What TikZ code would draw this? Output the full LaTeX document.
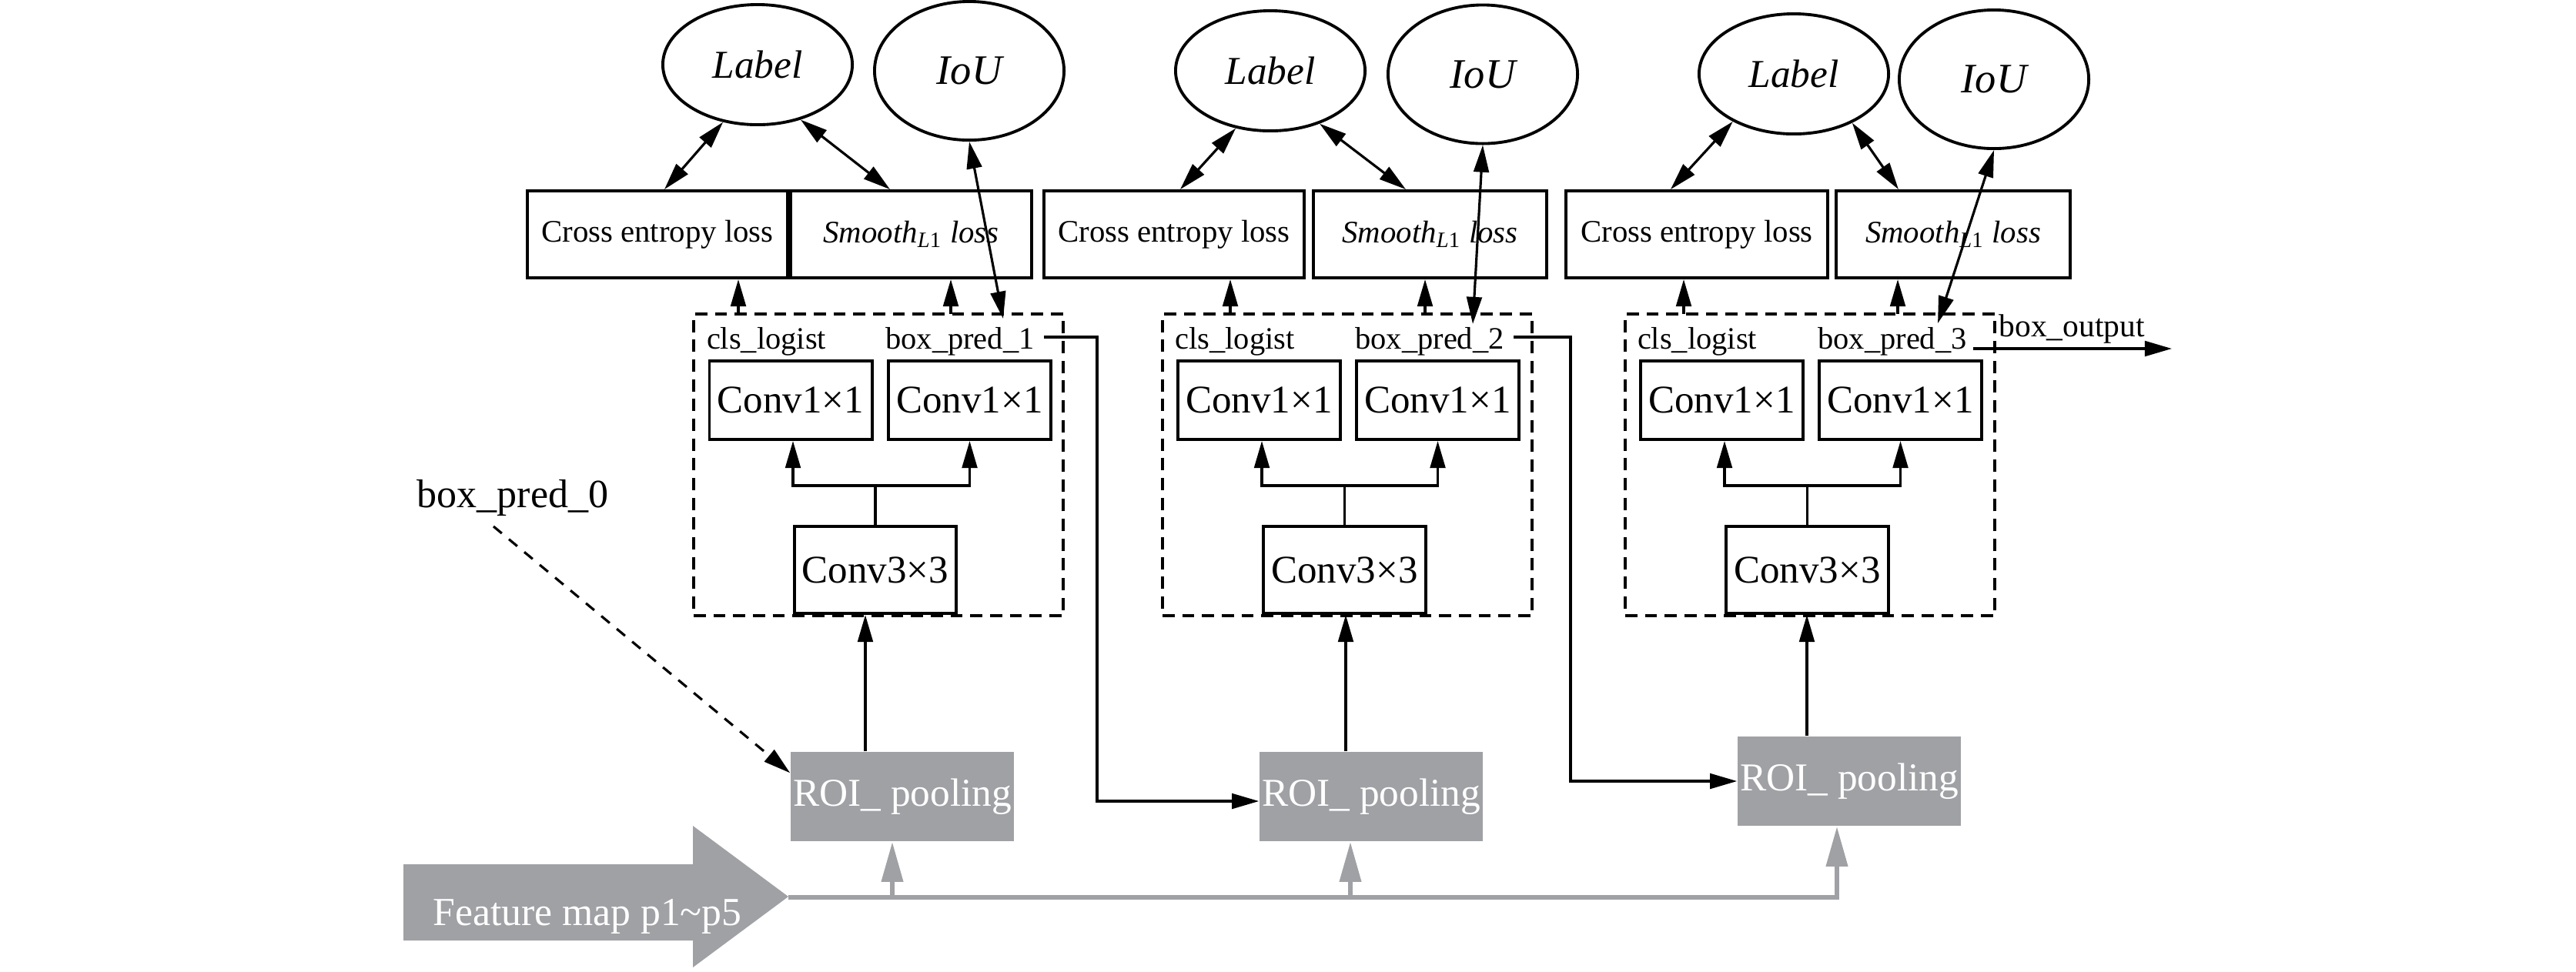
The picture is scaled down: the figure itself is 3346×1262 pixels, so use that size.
\documentclass[tikz,border=0pt]{standalone}
\usepackage{fontspec}
\setmainfont{Liberation Serif}
\usetikzlibrary{arrows.meta,shapes.geometric}
\definecolor{roigray}{RGB}{160,161,165}
\newcommand\fsz[1]{\fontsize{#1}{#1}\selectfont}
\newcommand\smoothloss{\textit{Smooth}\textsubscript{\textit{L}1} \textit{loss}}
\begin{document}
\begin{tikzpicture}[x=0.01cm,y=-0.01cm,
  >={Triangle[length=10pt,width=5.6pt]},
  lab/.style={ellipse,draw,line width=1.1pt,inner sep=0pt,minimum width=2.46cm,minimum height=1.56cm,font=\fsz{14.6}\itshape},
  iou/.style={lab,minimum height=1.80cm,font=\fsz{15.5}\itshape},
  lossbox/.style={draw,line width=1.1pt,inner sep=0pt,minimum height=1.13cm,font=\fsz{11.6}},
  dbox/.style={draw,line width=1pt,dash pattern=on 4.5pt off 2.8pt,inner sep=0pt,minimum width=4.80cm,minimum height=3.92cm},
  conv/.style={draw,line width=1.1pt,inner sep=0pt,minimum width=2.11cm,font=\fsz{14.5}},
  small/.style={inner sep=0pt,anchor=base,font=\fsz{11.5}},
  roi/.style={fill=roigray,text=white,inner sep=0pt,minimum width=2.90cm,minimum height=1.16cm,font=\fsz{14.6}},
  arr/.style={->,line width=0.9pt},
  dbl/.style={<->,line width=0.9pt},
  gline/.style={color=roigray,line width=1.9pt,-{Triangle[length=14.8pt,width=7.7pt]}}
]
\useasboundingbox (0,0) rectangle (3346,1262);

% ---------- Group 1 ----------
\node[lab] (lab1) at (984,84) {Label};
\node[iou] (iou1) at (1259,92) {IoU};
\node[lossbox,minimum width=3.38cm] (ce1) at (854,304.5) {Cross entropy loss};
\node[lossbox,minimum width=3.13cm] (sm1) at (1183.5,304.5) {\smoothloss};
\node[dbox] (d1) at (1141,604) {};
\node[conv,minimum height=1.02cm] (ca1) at (1027,520) {Conv1×1};
\node[conv,minimum height=1.02cm] (cb1) at (1259.5,520) {Conv1×1};
\node[conv,minimum height=1.13cm,minimum width=2.10cm] (k1) at (1137,740.5) {Conv3×3};
\node[small] (cls1) at (995.5,453) {cls\_logist};
\node[small] (bp1) at (1247,453) {box\_pred\_1};
\node[roi] (roi1) at (1172,1035) {ROI\_ pooling};

\draw[dbl] (lab1.239) -- ([xshift=0.09cm]ce1.north);
\draw[dbl] (lab1.308) -- ([xshift=-0.275cm]sm1.north);
\coordinate (e1) at (1303,414);
\draw[dbl] (iou1.south) -- (e1);
\coordinate (u1a) at (959,408);
\coordinate (u1b) at (1235,408);
\draw[arr] (u1a) -- (u1a |- ce1.south);
\draw[arr] (u1b) -- (u1b |- sm1.south);
\draw[line width=0.9pt] (k1.north) -- ++(0,-51) coordinate (j1);
\draw[arr] (j1) -| (k1.north west |- ca1.south);
\draw[arr] (j1) -| (cb1.south);
\path ([xshift=-0.48cm]roi1.north) coordinate (r1);
\draw[arr] (r1) -- (r1 |- k1.south);

% ---------- Group 2 ----------
\node[lab] (lab2) at (1650,92) {Label};
\node[iou] (iou2) at (1926,96.5) {IoU};
\node[lossbox,minimum width=3.38cm] (ce2) at (1525,304.5) {Cross entropy loss};
\node[lossbox,minimum width=3.03cm] (sm2) at (1857.5,304.5) {\smoothloss};
\node[dbox] (d2) at (1750,604) {};
\node[conv,minimum height=1.02cm] (ca2) at (1635.5,520) {Conv1×1};
\node[conv,minimum height=1.02cm] (cb2) at (1867.5,520) {Conv1×1};
\node[conv,minimum height=1.13cm] (k2) at (1746.5,740.5) {Conv3×3};
\node[small] (cls2) at (1604,453) {cls\_logist};
\node[small] (bp2) at (1857,453) {box\_pred\_2};
\node[roi] (roi2) at (1781,1035) {ROI\_ pooling};

\draw[dbl] (lab2.239) -- ([xshift=0.08cm]ce2.north);
\draw[dbl] (lab2.313) -- ([xshift=-0.315cm]sm2.north);
\coordinate (e2) at (1913,421);
\draw[dbl] (iou2.south) -- (e2);
\coordinate (u2a) at (1598,408);
\coordinate (u2b) at (1851,408);
\draw[arr] (u2a) -- (u2a |- ce2.south);
\draw[arr] (u2b) -- (u2b |- sm2.south);
\draw[line width=0.9pt] (k2.north) -- ++(0,-51) coordinate (j2);
\draw[arr] (j2) -| (k2.north west |- ca2.south);
\draw[arr] (j2) -| (cb2.south);
\path ([xshift=-0.33cm]roi2.north) coordinate (r2);
\draw[arr] (r2) -- (r2 |- k2.south);

% ---------- Group 3 ----------
\node[lab] (lab3) at (2330,96) {Label};
\node[iou] (iou3) at (2590,103) {IoU};
\node[lossbox,minimum width=3.40cm] (ce3) at (2204,304.5) {Cross entropy loss};
\node[lossbox,minimum width=3.04cm] (sm3) at (2537,304.5) {\smoothloss};
\node[dbox] (d3) at (2351,604) {};
\node[conv,minimum height=1.02cm] (ca3) at (2236.5,520) {Conv1×1};
\node[conv,minimum height=1.02cm] (cb3) at (2468.5,520) {Conv1×1};
\node[conv,minimum height=1.13cm] (k3) at (2347.5,740.5) {Conv3×3};
\node[small] (cls3) at (2204.5,453) {cls\_logist};
\node[small] (bp3) at (2458,453) {box\_pred\_3};
\node[roi] (roi3) at (2402,1015) {ROI\_ pooling};

\draw[dbl] (lab3.218) -- ([xshift=-0.34cm]ce3.north);
\draw[dbl] (lab3.320) -- ([xshift=-0.71cm]sm3.north);
\coordinate (e3) at (2517,420);
\draw[dbl] (iou3.south) -- (e3);
\coordinate (u3a) at (2187,408);
\coordinate (u3b) at (2465,408);
\draw[arr] (u3a) -- (u3a |- ce3.south);
\draw[arr] (u3b) -- (u3b |- sm3.south);
\draw[line width=0.9pt] (k3.north) -- ++(0,-51) coordinate (j3);
\draw[arr] (j3) -| (k3.north west |- ca3.south);
\draw[arr] (j3) -| (cb3.south);
\path ([xshift=-0.55cm]roi3.north) coordinate (r3);
\draw[arr] (r3) -- (r3 |- k3.south);

% ---------- cross links ----------
\coordinate (o1) at (1356,438);
\draw[arr] (o1) -- ++(69,0) |- ([yshift=-0.06cm]roi2.west);
\coordinate (o2) at (1966,438);
\draw[arr] (o2) -- ++(74,0) |- (roi3.west);
\coordinate (o3) at (2563,453);
\coordinate (bout) at (2821,453);
\draw[arr] (o3) -- (bout);
\node[small,font=\fsz{11.8}] (boxout) at (2691,437) {box\_output};

% ---------- box_pred_0 ----------
\node[inner sep=0pt,anchor=base,font=\fsz{14.8}] (bp0) at (666,659) {box\_pred\_0};
\coordinate (b0s) at (641,684);
\draw[arr,dash pattern=on 4pt off 3.4pt] (b0s) -- ([yshift=-0.28cm]roi1.north west);

% ---------- feature map ----------
\fill[roigray] (524,1123) -- (900,1123) -- (900,1073) -- (1024,1165) -- (900,1257) -- (900,1222) -- (524,1222) -- cycle;
\node[inner sep=0pt,anchor=base,text=white,font=\fsz{14.7}] (feat) at (763,1202) {Feature map p1\textasciitilde p5};
\coordinate (ftip) at (1024,1166);
\draw[gline] (ftip) -| ([xshift=-0.16cm]roi3.south);
\path ([xshift=-0.13cm]roi1.south) coordinate (g1);
\draw[gline] (g1 |- ftip) -- (g1);
\path ([xshift=-0.27cm]roi2.south) coordinate (g2);
\draw[gline] (g2 |- ftip) -- (g2);
\end{tikzpicture}
\end{document}
